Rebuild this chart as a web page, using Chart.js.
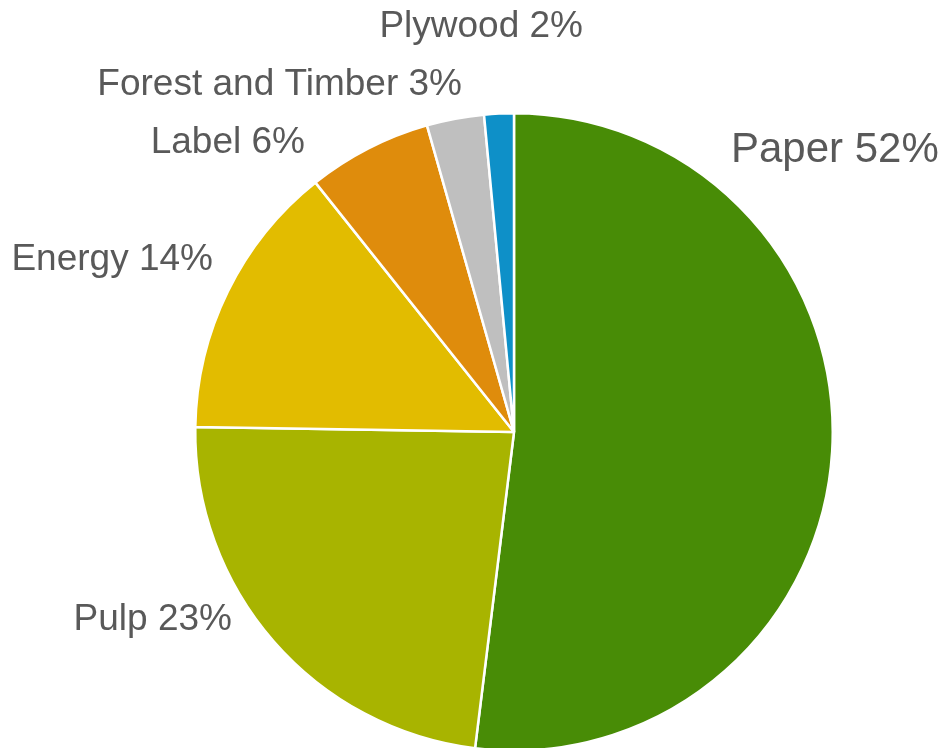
<!DOCTYPE html>
<html>
<head>
<meta charset="utf-8">
<script src="https://cdn.jsdelivr.net/npm/chart.js@4/dist/chart.umd.min.js"></script>
<style>
html,body{margin:0;padding:0;background:#fff;overflow:hidden;}
#wrap{width:945px;height:864px;position:relative;}
</style>
</head>
<body>
<div id="wrap"><canvas id="c" width="945" height="864"></canvas></div>
<script>
const categories = ["Paper", "Pulp", "Energy", "Label", "Forest and Timber", "Plywood"];
const values = [51.95, 23.3, 14.05, 6.3, 2.9, 1.5];
const labelTexts = ["Paper 52%", "Pulp 23%", "Energy 14%", "Label 6%", "Forest and Timber 3%", "Plywood 2%"];
const colors = ["#488c06", "#a8b400", "#e2bc00", "#df8c0c", "#bfbfbf", "#0e90c8"];

// label placement (text layout only)
const labelLayout = [
  {x: 731, y: 150, align: "left", size: 42},
  {x: 232, y: 620, align: "right", size: 37},
  {x: 213, y: 260, align: "right", size: 37},
  {x: 305, y: 143, align: "right", size: 37},
  {x: 462, y: 85, align: "right", size: 37},
  {x: 583, y: 27, align: "right", size: 37}
];

const labelPlugin = {
  id: "outLabels",
  afterDraw(chart) {
    const ctx = chart.ctx;
    ctx.save();
    ctx.fillStyle = "#595959";
    ctx.textBaseline = "middle";
    labelTexts.forEach((t, i) => {
      const L = labelLayout[i];
      ctx.font = L.size + "px 'Liberation Sans', Arial, sans-serif";
      ctx.textAlign = L.align;
      ctx.fillText(t, L.x, L.y);
    });
    ctx.restore();
  }
};

new Chart(document.getElementById("c"), {
  type: "pie",
  data: {
    labels: categories,
    datasets: [{
      data: values,
      backgroundColor: colors,
      borderColor: "#ffffff",
      borderWidth: 2.5
    }]
  },
  options: {
    responsive: false,
    animation: false,
    layout: {padding: {left: 194, right: 111, top: 112, bottom: 112}},
    plugins: {legend: {display: false}, tooltip: {enabled: false}}
  },
  plugins: [labelPlugin]
});
</script>
</body>
</html>
